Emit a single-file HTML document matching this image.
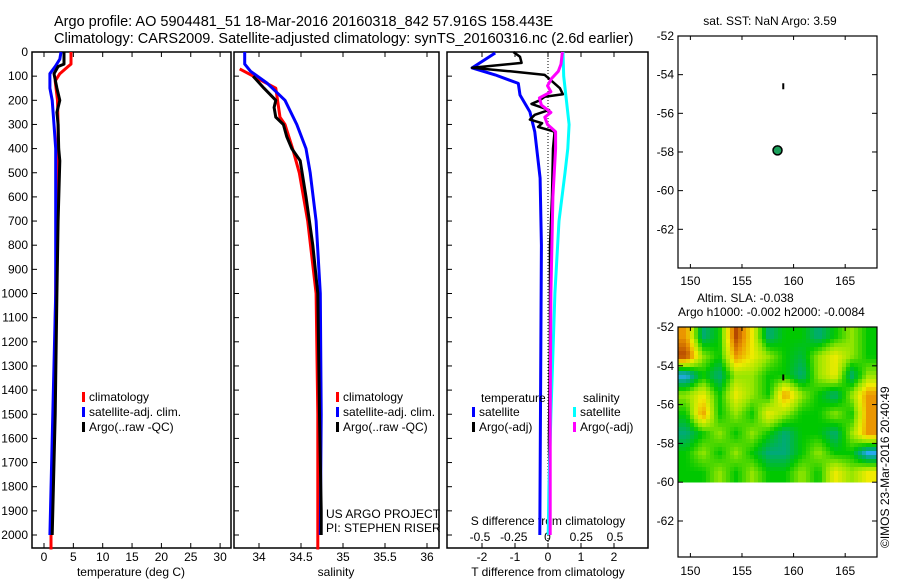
<!DOCTYPE html>
<html><head><meta charset="utf-8"><style>
html,body{margin:0;padding:0;background:#fff;width:900px;height:580px;overflow:hidden}
svg{font-family:"Liberation Sans",Arial,sans-serif;font-size:12px}
</style></head><body>
<svg id="s" width="900" height="580">
<text x="54" y="26" style="font-size:14.5px">Argo profile: AO 5904481_51 18-Mar-2016 20160318_842 57.916S 158.443E</text>
<text x="54" y="43" style="font-size:14.5px">Climatology: CARS2009. Satellite-adjusted climatology: synTS_20160316.nc (2.6d earlier)</text>
</svg>
<script>
// ---- data ----
const depthTicks=[0,100,200,300,400,500,600,700,800,900,1000,1100,1200,1300,1400,1500,1600,1700,1800,1900,2000];
const tempTicks=[0,5,10,15,20,25,30];
const salTicks=[34,34.5,35,35.5,36];
const salTickLabels=["34","34.5","35","35.5","36"];
const tdTicks=[-2,-1,0,1,2];
const sdTicks=[-0.5,-0.25,0,0.25,0.5];
const sdTickLabels=["-0.5","-0.25","0","0.25","0.5"];
const lonTicks=[150,155,160,165];
const latTicks=[-52,-54,-56,-58,-60,-62];

const tClimD=[0,50,60,90,120,200,300,400,500,1000,1500,2000,2060];
const tClimV=[4.6,4.6,4.1,2.7,1.9,2.3,2.4,2.4,2.2,2.0,1.7,1.2,1.2];
const tSatD=[0,30,60,90,150,200,300,400,1000,1500,2000];
const tSatV=[2.9,2.7,1.9,1.0,1.0,1.4,1.7,2.0,2.0,1.5,1.0];
const tArgoD=[0,50,60,90,150,200,250,300,400,450,700,1000,1500,1900,2000];
const tArgoV=[3.4,3.4,2.4,1.7,2.2,2.7,2.2,2.4,2.5,2.7,2.4,2.2,1.9,1.5,1.4];

const sClimD=[70,150,270,300,400,500,700,1000,1500,2000,2060];
const sClimV=[33.77,34.2,34.25,34.31,34.40,34.48,34.58,34.68,34.70,34.70,34.70];
const sSatD=[0,50,80,130,200,300,400,500,700,1000,1500,2000];
const sSatV=[33.83,33.83,33.9,34.1,34.31,34.45,34.56,34.61,34.68,34.73,34.74,34.73];
const sArgoD=[100,150,200,230,270,300,350,400,450,600,800,1000,1500,1900,2000];
const sArgoV=[33.93,34.06,34.2,34.18,34.2,34.29,34.33,34.39,34.49,34.56,34.64,34.70,34.72,34.74,34.74];

const tdSatD=[4,66,95,130,178,248,331,522,800,2000];
const tdSatV=[-1.6,-2.3,-1.6,-0.9,-0.85,-0.55,-0.4,-0.24,-0.2,-0.25];
const tdArgoD=[0,20,45,65,80,95,110,150,175,185,200,215,240,260,280,295,310,330,400,600,800,1200,1600,2000];
const tdArgoV=[-1.05,-0.85,-0.8,-2.3,-1.15,-0.1,0.03,0.36,0.45,-0.1,-0.25,-0.5,0.03,-0.4,-0.55,-0.18,-0.3,0.2,0.15,0.12,0.06,0.06,0.03,0.06];
const sdSatD=[0,100,200,300,400,500,700,1000,1500,1800,2000];
const sdSatV=[0.115,0.12,0.14,0.16,0.15,0.13,0.085,0.055,0.025,0.01,0.005];
const sdArgoD=[0,50,80,110,140,165,190,220,250,270,300,330,400,600,1000,1500,2000];
const sdArgoV=[0.11,0.10,0.08,0.03,0,0.025,-0.06,-0.045,0.025,-0.02,0,0.06,0.06,0.04,0.025,0.02,0.02];

const argoLon=158.443, argoLat=-57.916;
const slaLon=[149.6,151.2,152.8,154.4,156.0,157.6,159.2,160.8,162.4,164.0,165.6,167.2];
const slaLat=[-52.5,-53.5,-54.5,-55.5,-56.5,-57.5,-58.5,-59.5];
const slaGrid=[
[3,-1,0,4,2,-1,0,0,-1,0,1,0],
[4,1,0,3,2,1,0,-0.5,1,2,1,0],
[-2,0,-1,1,1,0,0,-1,1,2,-1,1],
[1,2,0,2,1,0,3,1,0,-1,1,3],
[0,3,0,1,0,2,1,0,0,1,0,3],
[-1,0,1,0,1,0,-1,0,0,-1,1,3],
[0,1,0,1,0,-1,-1,0,1,0,0,-2],
[0,0,1,0,1,0,0,1,0,2,1,2]];

// ---- helpers ----
const S=document.getElementById('s'),NS='http://www.w3.org/2000/svg';
function mk(tag,at,parent){const e=document.createElementNS(NS,tag);for(const k in at)e.setAttribute(k,at[k]);(parent||S).appendChild(e);return e;}
function txt(x,y,s,anchor){const e=mk('text',{x:x,y:y,'text-anchor':anchor||'start'});e.textContent=s;return e;}
const Y=d=>52+0.2415*d;
const xT=v=>44+5.87*v, xS=v=>259+84*(v-34), xTD=v=>548+33*v, xSD=v=>547.5+135*v;
const lonX=v=>678+(v-148.8)*10.32, lat1=v=>36+(-52-v)*19.33, lat2=v=>327+(-52-v)*19.4;

function panel(x0,x1,name){
  const r=mk('rect',{x:x0,y:52,width:x1-x0,height:496,fill:'none',stroke:'#000','stroke-width':1.5});
  
  
  depthTicks.forEach(d=>mk('line',{x1:x0,x2:x0+5,y1:Y(d),y2:Y(d),stroke:'#000'}));
}
function line(xs,ys,fx,col,name,w){
  const pts=xs.map((d,i)=>fx(ys[i]).toFixed(1)+','+Y(d).toFixed(1)).join(' ');
  const p=mk('polyline',{points:pts,fill:'none',stroke:col,'stroke-width':w||3,'stroke-linejoin':'round'});
  
  
}
function xticks(vals,labels,fx,yTop,yBot,labY){
  vals.forEach((v,i)=>{const x=fx(v);mk('line',{x1:x,x2:x,y1:yTop,y2:yTop+5,stroke:'#000'});mk('line',{x1:x,x2:x,y1:yBot,y2:yBot-5,stroke:'#000'});
    const t=txt(x,labY,labels[i],'middle');});
}
function legend(x,y,items){
  items.forEach((it,i)=>{mk('rect',{x:x,y:y+i*15-9,width:3,height:10,fill:it[0]});
    const t=txt(x+7,y+i*15,it[1]);});
}

// panel 1 temperature
panel(32,231,'temperature-panel');
depthTicks.forEach(d=>{const t=txt(28,Y(d)+4,String(d),'end');});
xticks(tempTicks,tempTicks.map(String),xT,52,548,561);
const tl=txt(131,576,'temperature (deg C)','middle');
line(tClimD,tClimV,xT,'#f00','temp-climatology');
line(tSatD,tSatV,xT,'#00f','temp-satellite-clim');
line(tArgoD,tArgoV,xT,'#000','temp-argo');
legend(82,401,[['#f00','climatology'],['#00f','satellite-adj. clim.'],['#000','Argo(..raw -QC)']]);

// panel 2 salinity
panel(234,439,'salinity-panel');
xticks(salTicks,salTickLabels,xS,52,548,561);
const sl=txt(336,576,'salinity','middle');
line(sClimD,sClimV,xS,'#f00','sal-climatology');
line(sSatD,sSatV,xS,'#00f','sal-satellite-clim');
line(sArgoD,sArgoV,xS,'#000','sal-argo');
legend(336,401,[['#f00','climatology'],['#00f','satellite-adj. clim.'],['#000','Argo(..raw -QC)']]);
txt(326,518,'US ARGO PROJECT');txt(326,532,'PI: STEPHEN RISER');

// panel 3 differences
panel(447,648,'difference-panel');
xticks(tdTicks,tdTicks.map(String),xTD,52,548,561);
sdTicks.forEach((v,i)=>{const t=txt(xSD(v),541,sdTickLabels[i],'middle');});
txt(548,525,'S difference from climatology','middle');
txt(548,576,'T difference from climatology','middle');
mk('line',{x1:548,x2:548,y1:52,y2:548,stroke:'#000','stroke-dasharray':'1,2'});
line(tdSatD,tdSatV,xTD,'#00f','tdiff-satellite');
line(tdArgoD,tdArgoV,xTD,'#000','tdiff-argo',2.5);
line(sdSatD,sdSatV,xSD,'#0ff','sdiff-satellite');
line(sdArgoD,sdArgoV,xSD,'#f0f','sdiff-argo');
txt(481,402,'temperature');txt(583,402,'salinity');
legend(472,416,[['#00f','satellite'],['#000','Argo(-adj)']]);
legend(573,416,[['#0ff','satellite'],['#f0f','Argo(-adj)']]);

// map 1
const m1=mk('rect',{x:678,y:36,width:199,height:232,fill:'none',stroke:'#000','stroke-width':1.2});

txt(770,25,'sat. SST: NaN Argo: 3.59','middle');
latTicks.forEach(v=>{mk('line',{x1:678,x2:683,y1:lat1(v),y2:lat1(v),stroke:'#000'});mk('line',{x1:872,x2:877,y1:lat1(v),y2:lat1(v),stroke:'#000'});txt(674,lat1(v)+4,String(v),'end');});
lonTicks.forEach(v=>{mk('line',{x1:lonX(v),x2:lonX(v),y1:36,y2:40,stroke:'#000'});mk('line',{x1:lonX(v),x2:lonX(v),y1:268,y2:264,stroke:'#000'});txt(lonX(v),285,String(v),'middle');});
mk('rect',{x:lonX(159.0)-1,y:lat1(-54.6)-3,width:2,height:6,fill:'#000'});
const pt=mk('circle',{cx:lonX(argoLon),cy:lat1(argoLat),r:4.5,fill:'#1a9f5a',stroke:'#000','stroke-width':1.5});


// map 2
txt(697,302,'Altim. SLA: -0.038');
txt(678,316,'Argo h1000: -0.002 h2000: -0.0084');
const cols=[[-2,[40,170,240]],[-1,[0,170,120]],[0,[0,200,0]],[1,[150,230,0]],[2,[240,235,0]],[3,[235,150,0]],[4,[180,70,0]]];
function col(v){for(let i=0;i<cols.length-1;i++){const a=cols[i],b=cols[i+1];if(v<=b[0]){const t=Math.max(0,(v-a[0])/(b[0]-a[0]));return 'rgb('+a[1].map((c,j)=>Math.round(c+(b[1][j]-c)*t)).join(',')+')';}}return 'rgb(180,70,0)';}
// bilinear sampling of the grid for smooth rendering
function sample(lon,lat){
  const nC=slaLon.length,nR=slaLat.length;
  let fc=(lon-slaLon[0])/(slaLon[1]-slaLon[0]); let fr=(slaLat[0]-lat)/(slaLat[0]-slaLat[1]);
  fc=Math.max(0,Math.min(nC-1,fc)); fr=Math.max(0,Math.min(nR-1,fr));
  const c0=Math.min(nC-2,Math.floor(fc)),r0=Math.min(nR-2,Math.floor(fr)),tc=fc-c0,tr=fr-r0;
  const g=slaGrid;
  return (g[r0][c0]*(1-tc)+g[r0][c0+1]*tc)*(1-tr)+(g[r0+1][c0]*(1-tc)+g[r0+1][c0+1]*tc)*tr;
}
const hg=mk('g',{'shape-rendering':'crispEdges'});


const y0=lat2(-52),y1=lat2(-60),step=4;
for(let y=y0;y<y1;y+=step){for(let x=678;x<877;x+=step){
  const lon=148.8+(x+step/2-678)/10.32, lat=-52-(y+step/2-327)/19.4;
  mk('rect',{x:x,y:y,width:Math.min(step,877-x)+0.3,height:Math.min(step,y1-y)+0.3,fill:col(sample(lon,lat))},hg);
}}
const m2=mk('rect',{x:678,y:327,width:199,height:230,fill:'none',stroke:'#000','stroke-width':1.2});

latTicks.forEach(v=>{mk('line',{x1:678,x2:683,y1:lat2(v),y2:lat2(v),stroke:'#000'});mk('line',{x1:872,x2:877,y1:lat2(v),y2:lat2(v),stroke:'#000'});txt(674,lat2(v)+4,String(v),'end');});
lonTicks.forEach(v=>{mk('line',{x1:lonX(v),x2:lonX(v),y1:327,y2:331,stroke:'#000'});mk('line',{x1:lonX(v),x2:lonX(v),y1:557,y2:553,stroke:'#000'});txt(lonX(v),575,String(v),'middle');});
mk('rect',{x:lonX(159.0)-1,y:lat2(-54.6)-3,width:2,height:6,fill:'#000'});
const cr=txt(0,0,'©IMOS 23-Mar-2016 20:40:49');cr.setAttribute('transform','translate(889,548) rotate(-90)');

</script>
</body></html>
